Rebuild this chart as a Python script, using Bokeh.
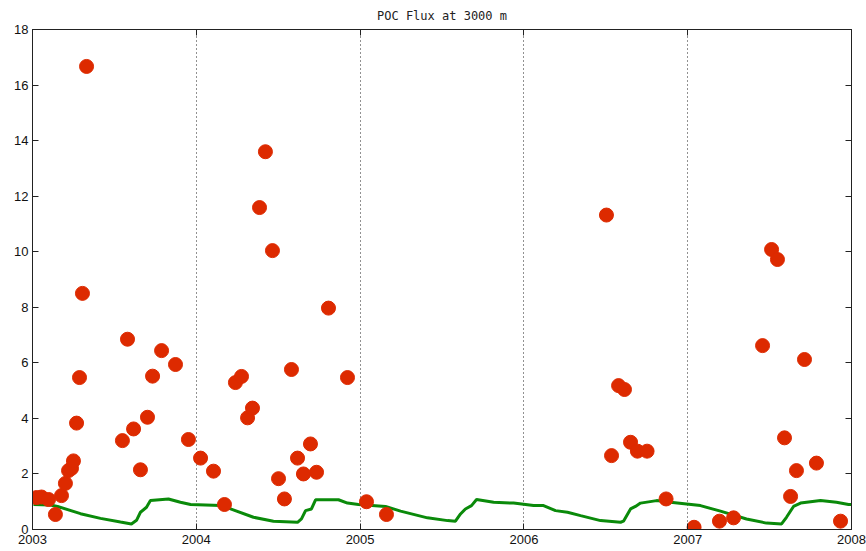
from bokeh.plotting import figure
from bokeh.models import FixedTicker, LinearAxis, Range1d, Title, CustomJSTickFormatter
from bokeh.embed import file_html
from bokeh.resources import INLINE

# POC flux samples (decimal year, flux)
flux_year = [2003.024, 2003.055, 2003.098, 2003.140, 2003.177, 2003.201, 2003.220, 2003.238,
             2003.250, 2003.269, 2003.287, 2003.305, 2003.330, 2003.549, 2003.580, 2003.617,
             2003.659, 2003.702, 2003.733, 2003.788, 2003.873, 2003.952, 2004.026, 2004.105,
             2004.172, 2004.239, 2004.276, 2004.313, 2004.343, 2004.386, 2004.422, 2004.465,
             2004.502, 2004.538, 2004.581, 2004.618, 2004.654, 2004.697, 2004.734, 2004.807,
             2004.923, 2005.039, 2005.161, 2006.504, 2006.535, 2006.578, 2006.614, 2006.651,
             2006.693, 2006.752, 2006.868, 2007.039, 2007.194, 2007.280, 2007.457, 2007.512,
             2007.548, 2007.591, 2007.628, 2007.664, 2007.713, 2007.786, 2007.933]
flux_value = [1.15, 1.17, 1.08, 0.54, 1.22, 1.66, 2.12, 2.2,
              2.47, 3.83, 5.47, 8.5, 16.67, 3.2, 6.85, 3.62,
              2.15, 4.04, 5.52, 6.44, 5.94, 3.24, 2.57, 2.1,
              0.9, 5.29, 5.51, 4.02, 4.37, 11.59, 13.6, 10.04,
              1.83, 1.1, 5.76, 2.57, 2.0, 3.08, 2.06, 7.97,
              5.47, 1.0, 0.54, 11.32, 2.66, 5.18, 5.04, 3.14,
              2.82, 2.82, 1.1, 0.08, 0.3, 0.42, 6.62, 10.08,
              9.72, 3.3, 1.19, 2.12, 6.12, 2.39, 0.3]

# Model / climatology curve
model_year = [2003.006, 2003.110, 2003.153, 2003.293, 2003.415, 2003.537, 2003.604, 2003.635,
              2003.659, 2003.696, 2003.720, 2003.830, 2003.903, 2003.965, 2004.148, 2004.209,
              2004.349, 2004.471, 2004.618, 2004.642, 2004.667, 2004.703, 2004.728, 2004.868,
              2004.923, 2004.990, 2005.155, 2005.247, 2005.411, 2005.534, 2005.582, 2005.613,
              2005.643, 2005.680, 2005.711, 2005.815, 2005.937, 2006.059, 2006.120, 2006.193,
              2006.266, 2006.346, 2006.468, 2006.590, 2006.608, 2006.651, 2006.681, 2006.712,
              2006.810, 2006.895, 2006.993, 2007.078, 2007.200, 2007.359, 2007.481, 2007.573,
              2007.603, 2007.646, 2007.689, 2007.811, 2007.908, 2007.982, 2008.000]
model_value = [0.90, 0.88, 0.83, 0.57, 0.40, 0.27, 0.20, 0.33,
               0.62, 0.80, 1.04, 1.10, 0.98, 0.90, 0.86, 0.74,
               0.44, 0.30, 0.26, 0.38, 0.68, 0.74, 1.07, 1.07,
               0.95, 0.90, 0.83, 0.66, 0.42, 0.32, 0.30, 0.56,
               0.74, 0.86, 1.08, 0.98, 0.95, 0.86, 0.86, 0.68,
               0.62, 0.50, 0.32, 0.26, 0.30, 0.74, 0.83, 0.95,
               1.04, 0.98, 0.92, 0.86, 0.66, 0.38, 0.23, 0.20,
               0.44, 0.83, 0.95, 1.04, 0.98, 0.90, 0.90]

year_ticks = [2003, 2004, 2005, 2006, 2007, 2008]
flux_ticks = [0, 2, 4, 6, 8, 10, 12, 14, 16, 18]

p = figure(width=866, height=551, output_backend="svg", toolbar_location=None,
           x_range=Range1d(2003, 2008), y_range=Range1d(0, 18),
           min_border_left=32, min_border_right=15, min_border_top=10, min_border_bottom=22)

p.title = Title(text="POC Flux at 3000 m", align="center",
                text_font="DejaVu Sans Mono", text_font_size="12px",
                text_font_style="normal", text_color="#222222", offset=0, standoff=13)

p.line(model_year, model_value, line_color="#0a8a0a", line_width=3)
p.scatter(flux_year, flux_value, size=14, fill_color="#dd2a00", line_color="#dd2a00")

for ax in (p.xaxis[0], p.yaxis[0]):
    ax.major_tick_in = 6
    ax.major_tick_out = 0
    ax.minor_tick_in = 0
    ax.minor_tick_out = 0
    ax.major_label_text_font = "Liberation Sans"
    ax.major_label_text_font_size = "13px"
    ax.major_label_text_color = "#111111"
    ax.axis_line_color = "#222222"
    ax.major_tick_line_color = "#222222"
    ax.major_label_standoff = 4

p.xaxis[0].ticker = FixedTicker(ticks=year_ticks)
p.yaxis[0].ticker = FixedTicker(ticks=flux_ticks)
p.xaxis[0].major_label_standoff = 5

blank = CustomJSTickFormatter(code="return '';")
top = LinearAxis(ticker=FixedTicker(ticks=year_ticks), major_tick_in=6, major_tick_out=0,
                 minor_tick_in=0, minor_tick_out=0, formatter=blank,
                 major_label_standoff=0, axis_line_color="#222222",
                 major_tick_line_color="#222222")
right = LinearAxis(ticker=FixedTicker(ticks=flux_ticks), major_tick_in=6, major_tick_out=0,
                   minor_tick_in=0, minor_tick_out=0,
                   formatter=CustomJSTickFormatter(code="return '';"),
                   major_label_standoff=0, axis_line_color="#222222",
                   major_tick_line_color="#222222")
p.add_layout(top, "above")
p.add_layout(right, "right")

p.xgrid.ticker = FixedTicker(ticks=year_ticks)
p.xgrid.grid_line_color = "#222222"
p.xgrid.grid_line_dash = "1 3"
p.xgrid.grid_line_width = 1
p.ygrid.grid_line_color = None

p.outline_line_color = "#222222"
p.background_fill_color = "white"
p.border_fill_color = "white"

open("out.html", "w").write(file_html(p, INLINE))
